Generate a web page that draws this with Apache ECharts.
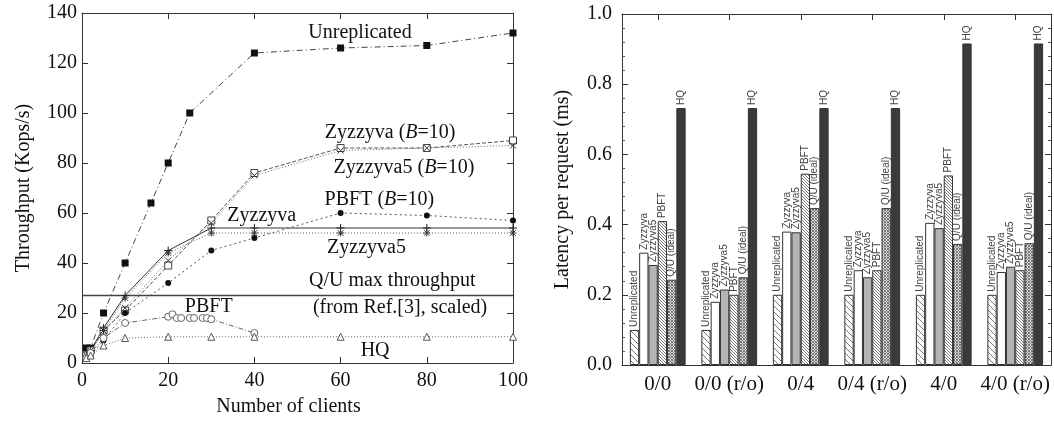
<!DOCTYPE html>
<html>
<head>
<meta charset="utf-8">
<script src="https://cdn.jsdelivr.net/npm/echarts@6/dist/echarts.min.js"></script>
<style>
html, body { margin: 0; padding: 0; background: #fff; }
#chart { width: 1054px; height: 422px; }
</style>
</head>
<body>
<div id="chart"></div>
<script>
// left panel: throughput (Kops/s) vs number of clients, [clients, value]
const unreplicated = [[1, 6], [2, 6], [5, 20], [10, 40], [16, 64], [20, 80], [25, 100], [40, 124], [60, 126], [80, 127], [100, 132]];
const zyzzyvaB10 = [[1, 3], [2, 5], [5, 13], [10, 21], [20, 39], [30, 57], [40, 76], [60, 86], [80, 86], [100, 89]];
const zyzzyva5B10 = [[1, 3], [2, 5], [5, 13], [10, 22], [20, 41], [30, 56], [40, 75], [60, 85], [80, 86], [100, 87]];
const zyzzyva = [[1, 3], [2, 5], [5, 14], [10, 27], [20, 45], [30, 54], [40, 54], [60, 54], [80, 54], [100, 54]];
const zyzzyva5 = [[1, 2], [2, 4], [5, 13], [10, 26], [20, 44], [30, 52], [40, 52], [60, 52], [80, 52], [100, 52]];
const pbftB10 = [[1, 2], [2, 3], [5, 9], [10, 20], [20, 32], [30, 45], [40, 50], [60, 60], [80, 59], [100, 57]];
const pbft = [[1, 2], [2, 4], [5, 10], [10, 16], [20, 18.5], [21, 19.5], [22, 18], [23, 18], [25, 18], [26, 18], [28, 18], [29, 18], [30, 17.5], [40, 12]];
const hq = [[1, 2], [2, 3], [5, 7], [10, 10], [20, 10.5], [30, 10.5], [40, 10.5], [60, 10.5], [80, 10.5], [100, 10.5]];
const quMax = 27;
const clientTicks = [0, 100];

// right panel: latency per request (ms)
const cases = ['0/0', '0/0 (r/o)', '0/4', '0/4 (r/o)', '4/0', '4/0 (r/o)'];
const latUnreplicated = [0.10, 0.10, 0.20, 0.20, 0.20, 0.20];
const latZyzzyva = [0.32, 0.18, 0.38, 0.27, 0.405, 0.265];
const latZyzzyva5 = [0.285, 0.215, 0.378, 0.25, 0.39, 0.28];
const latPbft = [0.41, 0.20, 0.545, 0.27, 0.54, 0.27];
const latQu = [0.243, 0.25, 0.447, 0.447, 0.345, 0.347];
const latHq = [0.732, 0.732, 0.732, 0.732, 0.916, 0.916];

// text annotations on the left panel, in data units
const notes = [
  ['Unreplicated', 64.5, 132],
  ['Zyzzyva ({i|B}=10)', 71.5, 92],
  ['Zyzzyva5 ({i|B}=10)', 74.7, 78],
  ['PBFT ({i|B}=10)', 69, 65.5],
  ['Zyzzyva', 41.7, 58.8],
  ['Zyzzyva5', 66, 46],
  ['Q/U max throughput', 72, 32.8],
  ['(from Ref.[3], scaled)', 73.8, 22],
  ['PBFT', 29.4, 22.4],
  ['HQ', 68, 4.8]
];

const serif = 'Liberation Serif';

function pattern(step, kind, bg, fg) {
  const c = document.createElement('canvas');
  c.width = c.height = step;
  const g = c.getContext('2d');
  g.fillStyle = bg;
  g.fillRect(0, 0, step, step);
  g.strokeStyle = fg;
  g.lineWidth = 1;
  g.beginPath();
  if (kind === '/' || kind === 'x') {
    g.moveTo(0, step); g.lineTo(step, 0);
    g.moveTo(-1, 1); g.lineTo(1, -1);
    g.moveTo(step - 1, step + 1); g.lineTo(step + 1, step - 1);
  }
  if (kind === '\\' || kind === 'x') {
    g.moveTo(0, 0); g.lineTo(step, step);
    g.moveTo(step - 1, -1); g.lineTo(step + 1, 1);
    g.moveTo(-1, step - 1); g.lineTo(1, step + 1);
  }
  g.stroke();
  return { image: c, repeat: 'repeat' };
}

const crossPath = 'path://M0,0L10,10M10,0L0,10';
const plusPath = 'path://M5,0L5,10M0,5L10,5';
const starPath = 'path://M5,0L5,10M0,5L10,5M1,1L9,9M9,1L1,9';

function lineSeries(name, data, opt) {
  return Object.assign({
    name: name,
    type: 'line',
    xAxisIndex: 0,
    yAxisIndex: 0,
    data: data,
    symbolSize: 7,
    z: 3
  }, opt);
}

function barSeries(name, data, fill) {
  return {
    name: name,
    type: 'bar',
    xAxisIndex: 2,
    yAxisIndex: 2,
    data: data,
    barGap: '0%',
    barCategoryGap: '22%',
    itemStyle: { color: fill, borderColor: '#333', borderWidth: 1 },
    label: {
      show: true,
      position: 'top',
      rotate: 90,
      align: 'left',
      verticalAlign: 'middle',
      distance: 3,
      fontFamily: 'Liberation Sans',
      fontSize: 10,
      color: '#444',
      formatter: name
    }
  };
}

const tickInside = (len) => ({ show: true, inside: true, length: len, lineStyle: { color: '#333' } });
const axLine = { show: true, onZero: false, lineStyle: { color: '#333', width: 1 } };
const lbl = { fontFamily: serif, fontSize: 20, color: '#111' };

const chart = echarts.init(document.getElementById('chart'));
chart.setOption({
  animation: false,
  backgroundColor: '#fff',
  grid: [
    { left: 82, top: 13, width: 431, height: 350 },
    { left: 622, top: 14, width: 429, height: 351 }
  ],
  xAxis: [
    {
      gridIndex: 0, type: 'value', position: 'bottom',
      min: clientTicks[0], max: clientTicks[1], interval: 20,
      axisLine: axLine, axisTick: tickInside(6), splitLine: { show: false },
      axisLabel: Object.assign({ margin: 8 }, lbl),
      name: 'Number of clients', nameLocation: 'middle', nameGap: 34,
      nameTextStyle: { fontFamily: serif, fontSize: 20, color: '#111', padding: [0, 18, 0, 0] }
    },
    {
      gridIndex: 0, type: 'value', position: 'top',
      min: clientTicks[0], max: clientTicks[1], interval: 20,
      axisLine: axLine, axisTick: tickInside(6), splitLine: { show: false },
      axisLabel: { show: false }
    },
    {
      gridIndex: 1, type: 'category', position: 'bottom', data: cases,
      axisLine: axLine, axisTick: { show: false },
      axisLabel: Object.assign({}, lbl, { margin: 9, interval: 0, fontSize: 21 })
    },
    {
      gridIndex: 1, type: 'category', position: 'top', data: cases,
      axisLine: axLine, axisTick: Object.assign({ alignWithLabel: true, interval: 0 }, tickInside(6)),
      axisLabel: { show: false, interval: 0 }
    }
  ],
  yAxis: [
    {
      gridIndex: 0, type: 'value', position: 'left', min: 0, max: 140, interval: 20,
      axisLine: axLine, axisTick: tickInside(6), splitLine: { show: false },
      axisLabel: Object.assign({ margin: 5 }, lbl),
      name: 'Throughput (Kops/s)', nameLocation: 'middle', nameGap: 48,
      nameTextStyle: { fontFamily: serif, fontSize: 20, color: '#111' }
    },
    {
      gridIndex: 0, type: 'value', position: 'right', min: 0, max: 140, interval: 20,
      axisLine: axLine, axisTick: tickInside(6), splitLine: { show: false },
      axisLabel: { show: false }
    },
    {
      gridIndex: 1, type: 'value', position: 'left', min: 0, max: 1, interval: 0.2,
      axisLine: axLine, axisTick: tickInside(6), splitLine: { show: false },
      minorTick: { show: true, splitNumber: 5, length: 3, lineStyle: { color: '#555' } },
      axisLabel: Object.assign({ margin: 10, formatter: (v) => v.toFixed(1) }, lbl),
      name: 'Latency per request (ms)', nameLocation: 'middle', nameGap: 49,
      nameTextStyle: { fontFamily: serif, fontSize: 20, color: '#111' }
    },
    {
      gridIndex: 1, type: 'value', position: 'right', min: 0, max: 1, interval: 0.2,
      axisLine: axLine, axisTick: tickInside(6), splitLine: { show: false },
      minorTick: { show: true, splitNumber: 5, length: 3, lineStyle: { color: '#555' } },
      axisLabel: { show: false }
    }
  ],
  series: [
    lineSeries('Unreplicated', unreplicated, {
      symbol: 'rect', symbolSize: 7,
      itemStyle: { color: '#111' },
      lineStyle: { color: '#444', width: 1, type: [6, 3, 1, 3] }
    }),
    lineSeries('Zyzzyva (B=10)', zyzzyvaB10, {
      symbol: 'rect', symbolSize: 7,
      itemStyle: { color: '#fff', borderColor: '#444', borderWidth: 1 },
      lineStyle: { color: '#555', width: 1, type: [4, 2] }
    }),
    lineSeries('Zyzzyva5 (B=10)', zyzzyva5B10, {
      symbol: crossPath, symbolSize: 6,
      itemStyle: { color: 'transparent', borderColor: '#333', borderWidth: 1 },
      lineStyle: { color: '#666', width: 1, type: [1, 2] }
    }),
    lineSeries('Zyzzyva', zyzzyva, {
      symbol: plusPath, symbolSize: 8,
      itemStyle: { color: 'transparent', borderColor: '#222', borderWidth: 1 },
      lineStyle: { color: '#333', width: 1, type: 'solid' }
    }),
    lineSeries('Zyzzyva5', zyzzyva5, {
      symbol: starPath, symbolSize: 7,
      itemStyle: { color: 'transparent', borderColor: '#333', borderWidth: 1 },
      lineStyle: { color: '#555', width: 1, type: [1, 2] }
    }),
    lineSeries('PBFT (B=10)', pbftB10, {
      symbol: 'circle', symbolSize: 6,
      itemStyle: { color: '#111' },
      lineStyle: { color: '#555', width: 1, type: [2, 3] }
    }),
    lineSeries('PBFT', pbft, {
      symbol: 'circle', symbolSize: 7,
      itemStyle: { color: '#fff', borderColor: '#666', borderWidth: 1 },
      lineStyle: { color: '#666', width: 1, type: [5, 2, 1, 2] }
    }),
    lineSeries('HQ', hq, {
      symbol: 'triangle', symbolSize: 7,
      itemStyle: { color: '#fff', borderColor: '#555', borderWidth: 1 },
      lineStyle: { color: '#666', width: 1, type: [1, 2] }
    }),
    lineSeries('Q/U max throughput', [[clientTicks[0], quMax], [clientTicks[1], quMax]], {
      symbol: 'none',
      lineStyle: { color: '#444', width: 1.5, type: 'solid' }
    }),
    barSeries('Unreplicated', latUnreplicated, pattern(6, '\\', '#fff', '#777')),
    barSeries('Zyzzyva', latZyzzyva, '#fff'),
    barSeries('Zyzzyva5', latZyzzyva5, '#b4b4b4'),
    barSeries('PBFT', latPbft, pattern(3, '\\', '#fff', '#777')),
    barSeries('Q/U (ideal)', latQu, pattern(3, 'x', '#ddd', '#777')),
    barSeries('HQ', latHq, '#3a3a3a')
  ]
});

chart.setOption({
  graphic: notes.map(([text, x, y]) => {
    const p = chart.convertToPixel({ gridIndex: 0 }, [x, y]);
    return {
      type: 'text',
      x: p[0],
      y: p[1],
      z: 10,
      style: {
        text: text,
        align: 'center',
        verticalAlign: 'middle',
        fontFamily: serif,
        fontSize: 20,
        fill: '#111',
        rich: { i: { fontStyle: 'italic', fontFamily: serif, fontSize: 20, fill: '#111' } }
      }
    };
  })
});
</script>
</body>
</html>
